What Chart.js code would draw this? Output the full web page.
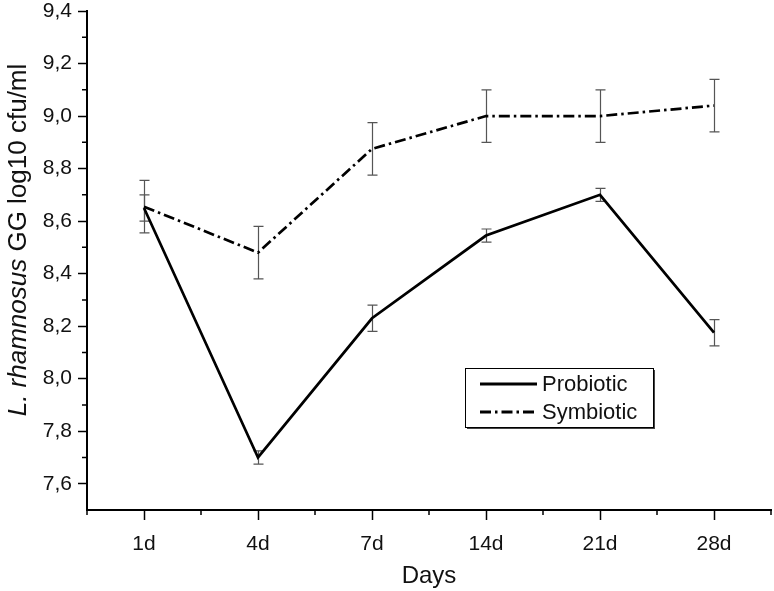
<!DOCTYPE html>
<html lang="en">
<head>
<meta charset="UTF-8">
<title>L. rhamnosus GG counts</title>
<script src="https://cdn.jsdelivr.net/npm/chart.js"></script>
<style>
  html, body { margin: 0; padding: 0; background: #fff; }
  #wrap { width: 774px; height: 591px; }
</style>
</head>
<body>
<div id="wrap"><canvas id="chart"></canvas></div>
<script>
const days = ['1d', '4d', '7d', '14d', '21d', '28d'];
const probiotic = [8.65, 7.70, 8.23, 8.545, 8.70, 8.175];
const probioticErr = [0.05, 0.025, 0.05, 0.025, 0.025, 0.05];
const symbiotic = [8.655, 8.48, 8.875, 9.00, 9.00, 9.04];
const symbioticErr = [0.1, 0.1, 0.1, 0.1, 0.1, 0.1];
const yTicks = [7.6, 7.8, 8.0, 8.2, 8.4, 8.6, 8.8, 9.0, 9.2, 9.4];
const yMinorTicks = [7.7, 7.9, 8.1, 8.3, 8.5, 8.7, 8.9, 9.1, 9.3];

const FONT = "'Liberation Sans', Arial, sans-serif";

// error bars, drawn under the lines
const errorBars = {
  id: 'errorBars',
  beforeDatasetsDraw(chart) {
    const { ctx, scales: { x, y } } = chart;
    ctx.save();
    ctx.strokeStyle = '#555';
    ctx.lineWidth = 1.2;
    chart.data.datasets.forEach(ds => {
      ds.data.forEach((v, i) => {
        const px = Math.round(x.getPixelForValue(i)) + 0.5;
        const top = y.getPixelForValue(v + ds.errors[i]);
        const bot = y.getPixelForValue(v - ds.errors[i]);
        ctx.beginPath();
        ctx.moveTo(px, top); ctx.lineTo(px, bot);
        ctx.moveTo(px - 5, top); ctx.lineTo(px + 5, top);
        ctx.moveTo(px - 5, bot); ctx.lineTo(px + 5, bot);
        ctx.stroke();
      });
    });
    ctx.restore();
  }
};

// minor ticks, y title with italic species name, boxed legend
const extras = {
  id: 'extras',
  afterDraw(chart) {
    const { ctx, scales: { x, y }, chartArea: a } = chart;
    ctx.save();
    ctx.strokeStyle = '#000';
    ctx.lineWidth = 1.5;
    ctx.beginPath();
    yMinorTicks.forEach(v => {
      const py = y.getPixelForValue(v);
      ctx.moveTo(a.left - 5, py); ctx.lineTo(a.left, py);
    });
    for (let i = 0; i <= days.length; i++) {
      const px = x.getPixelForValue(i - 0.5);
      ctx.moveTo(px, a.bottom); ctx.lineTo(px, a.bottom + 5);
    }
    ctx.stroke();

    // y axis title
    ctx.save();
    ctx.translate(19, 240);
    ctx.rotate(-Math.PI / 2);
    ctx.fillStyle = '#111';
    ctx.textBaseline = 'middle';
    const it = 'italic 26px ' + FONT, nm = '26px ' + FONT;
    const p1 = 'L. rhamnosus', p2 = ' GG log10 cfu/ml';
    ctx.font = it; const w1 = ctx.measureText(p1).width;
    ctx.font = nm; const w2 = ctx.measureText(p2).width;
    let sx = -(w1 + w2) / 2;
    ctx.textAlign = 'left';
    ctx.font = it; ctx.fillText(p1, sx, 0);
    ctx.font = nm; ctx.fillText(p2, sx + w1, 0);
    ctx.restore();

    // legend box
    const bx = 465, by = 368, bw = 188, bh = 59;
    ctx.fillStyle = '#fff';
    ctx.fillRect(bx, by, bw, bh);
    ctx.fillStyle = '#444';
    ctx.fillRect(bx + 2, by + bh, bw, 2);
    ctx.fillRect(bx + bw, by + 2, 2, bh);
    ctx.strokeStyle = '#000';
    ctx.lineWidth = 1;
    ctx.strokeRect(bx + 0.5, by + 0.5, bw, bh);
    ctx.font = '22px ' + FONT;
    ctx.fillStyle = '#111';
    ctx.textBaseline = 'middle';
    chart.data.datasets.forEach((ds, i) => {
      const ly = by + 16 + i * 28;
      ctx.beginPath();
      ctx.setLineDash(ds.borderDash || []);
      ctx.strokeStyle = ds.borderColor;
      ctx.lineWidth = ds.borderWidth + 0.5;
      ctx.moveTo(bx + 15, ly); ctx.lineTo(bx + 72, ly);
      ctx.stroke();
      ctx.setLineDash([]);
      ctx.fillText(ds.label, bx + 77, ly + 1);
    });
    ctx.restore();
  }
};

new Chart(document.getElementById('chart'), {
  type: 'line',
  data: {
    labels: days,
    datasets: [
      {
        label: 'Probiotic',
        data: probiotic,
        errors: probioticErr,
        borderColor: '#000',
        borderWidth: 2.7,
        pointRadius: 0,
        tension: 0,
        fill: false
      },
      {
        label: 'Symbiotic',
        data: symbiotic,
        errors: symbioticErr,
        borderColor: '#000',
        borderWidth: 2.7,
        borderDash: [11, 4, 2.5, 4],
        pointRadius: 0,
        tension: 0,
        fill: false
      }
    ]
  },
  options: {
    responsive: true,
    maintainAspectRatio: false,
    animation: false,
    layout: { padding: { top: 11, right: 3, left: 0, bottom: 0 } },
    plugins: { legend: { display: false }, tooltip: { enabled: false } },
    scales: {
      x: {
        offset: true,
        afterFit: s => { s.height = 81; },
        grid: { offset: false, drawOnChartArea: false, tickLength: 10, color: '#000', tickWidth: 1.5 },
        border: { color: '#000', width: 2 },
        ticks: { color: '#111', padding: 12, font: { family: FONT, size: 21 } },
        title: { display: true, text: 'Days', color: '#111', padding: { top: 2, bottom: 0 }, font: { family: FONT, size: 24 } }
      },
      y: {
        min: 7.5,
        max: 9.4,
        afterFit: s => { s.width = 87; s.paddingTop = 0; s.paddingBottom = 0; },
        afterBuildTicks: s => { s.ticks = yTicks.map(v => ({ value: v })); },
        grid: { drawOnChartArea: false, tickLength: 9, color: '#000', tickWidth: 1.5 },
        border: { color: '#000', width: 2 },
        ticks: {
          color: '#111',
          padding: 6,
          font: { family: FONT, size: 21 },
          callback: v => v.toFixed(1).replace('.', ',')
        }
      }
    }
  },
  plugins: [errorBars, extras]
});
</script>
</body>
</html>
